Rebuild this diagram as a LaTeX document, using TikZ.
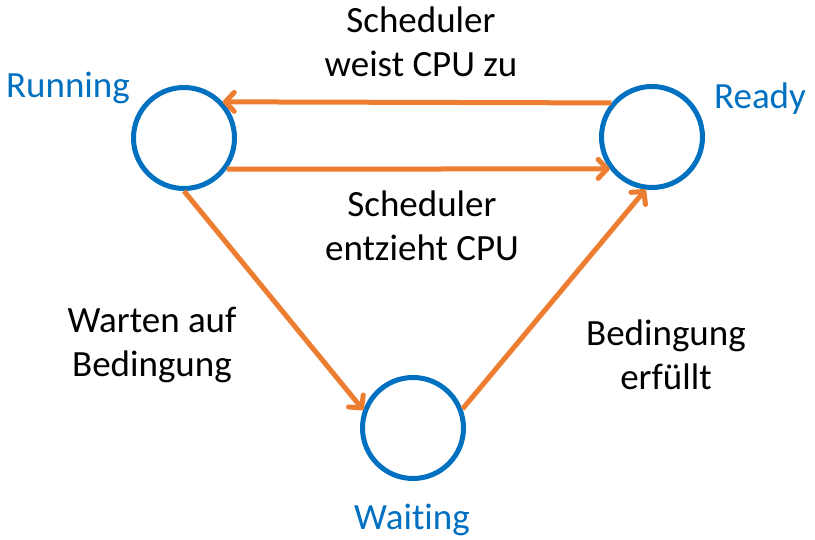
\documentclass[tikz,border=0pt]{standalone}
\usepackage{fontspec}
\setmainfont[Ligatures=NoCommon]{Carlito}
\usepackage{tikz}
\usepackage{xcolor}
\usetikzlibrary{arrows.meta}
\definecolor{procblue}{RGB}{0,112,192}
\definecolor{procorange}{RGB}{237,125,49}
\tikzstyle{state} = [circle, draw=procblue, line width=5pt, fill=white, minimum size=101pt, inner sep=0pt]
\tikzstyle{statelbl} = [text=procblue, anchor=base]
\tikzstyle{desc} = [align=center, anchor=base]

\begin{document}
\begin{tikzpicture}[x=1pt,y=1pt,->,>={Straight Barb[length=9pt,width=19pt,round]},line width=5pt,font=\fontsize{37}{44}\selectfont,every edge/.append style={draw=procorange}]
  \useasboundingbox (0,0) rectangle (815,540);
  \node[state] (Running) at (184,402) {};
  \node[state] (Ready) at (652,403) {};
  \node[state] (Waiting) at (413,112) {};

  \node[statelbl] (RunLbl) at (68,442) {Running};
  \node[statelbl] (RdyLbl) at (760,431) {Ready};
  \node[statelbl] (WaitLbl) at (412,10) {Waiting};

  \node[desc] (T1) at (421,463) {Scheduler\\weist CPU zu};
  \node[desc] (T2) at (422,279) {Scheduler\\entzieht CPU};
  \node[desc] (T3) at (152,163) {Warten auf\\Bedingung};
  \node[desc] (T4) at (666,150) {Bedingung\\erfüllt};

  \path (Ready.140) edge (Running.43);
  \path (Running.-36) edge (Ready.-143);
  \path (Running.-90) edge (Waiting.160);
  \path (Waiting.21) edge (Ready.-97);
\end{tikzpicture}
\end{document}
